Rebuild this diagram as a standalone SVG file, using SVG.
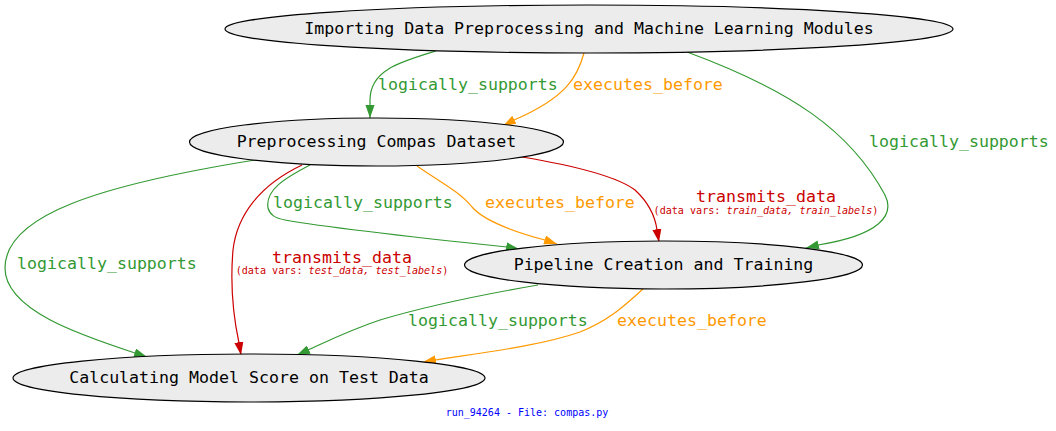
<svg xmlns="http://www.w3.org/2000/svg" width="1056" height="431" viewBox="0 0 1056 431">
<style>
.node ellipse{fill:#ececec;stroke:#000;stroke-width:1.2}
.node text{font-family:"DejaVu Sans Mono",monospace;font-size:16.6px;fill:#000;text-anchor:middle}
.e{fill:none;stroke-width:1.2}
.g{stroke:#339933}.o{stroke:#ff9900}.r{stroke:#cc0000}
.lbl{font-family:"DejaVu Sans Mono",monospace;font-size:16.6px}
.sub{font-family:"DejaVu Sans Mono",monospace;font-size:10.1px;fill:#cc0000;text-anchor:middle}
.gt{fill:#339933}.ot{fill:#ff9900}.rt{fill:#cc0000}
.foot{font-family:"DejaVu Sans Mono",monospace;font-size:10px;fill:#0000ff;text-anchor:middle}
</style>
<defs>
<marker id="ag" viewBox="0 0 10 7" refX="10" refY="3.5" markerWidth="13" markerHeight="9.1" markerUnits="userSpaceOnUse" orient="auto"><path d="M0,0L10,3.5L0,7z" fill="#339933"/></marker>
<marker id="ao" viewBox="0 0 10 7" refX="10" refY="3.5" markerWidth="13" markerHeight="9.1" markerUnits="userSpaceOnUse" orient="auto"><path d="M0,0L10,3.5L0,7z" fill="#ff9900"/></marker>
<marker id="ar" viewBox="0 0 10 7" refX="10" refY="3.5" markerWidth="13" markerHeight="9.1" markerUnits="userSpaceOnUse" orient="auto"><path d="M0,0L10,3.5L0,7z" fill="#cc0000"/></marker>
</defs>
<rect width="1056" height="431" fill="#fff"/>
<g id="edges">
<path class="e g" d="M436,51C400,62 370,70 370,100L370,118" marker-end="url(#ag)"/>
<path class="e o" d="M584,53C578,75 568,97 514,120L503,126" marker-end="url(#ao)"/>
<path class="e g" d="M687,52C790,90 850,130 885,195C895,215 880,235 818,245L806,248" marker-end="url(#ag)"/>
<path class="e o" d="M417,166C440,182 460,192 472,207C485,222 515,232 545,240L557,244" marker-end="url(#ao)"/>
<path class="e r" d="M522,157C570,165 615,175 635,190C648,202 655,215 657,230L659,242" marker-end="url(#ar)"/>
<path class="e g" d="M310,165C285,178 265,190 268,208C270,215 275,218 285,220C330,228 440,240 507,247L519,249" marker-end="url(#ag)"/>
<path class="e g" d="M255,160C100,185 5,215 5,268C5,310 80,335 135,353L147,357" marker-end="url(#ag)"/>
<path class="e r" d="M302,165C260,185 237,215 233,250C230,285 233,315 239,343L241,355" marker-end="url(#ar)"/>
<path class="e g" d="M538,285C480,295 420,308 380,320C350,330 330,340 308,350L297,355" marker-end="url(#ag)"/>
<path class="e o" d="M643,289C625,305 610,320 580,332C540,346 480,353 435,360L423,362" marker-end="url(#ao)"/>
<text class="lbl gt" x="378" y="90">logically_supports</text>
<text class="lbl ot" x="573" y="90">executes_before</text>
<text class="lbl gt" x="869" y="147">logically_supports</text>
<text class="lbl gt" x="273" y="208">logically_supports</text>
<text class="lbl ot" x="485" y="208">executes_before</text>
<text class="lbl rt" x="766" y="202" text-anchor="middle">transmits_data</text>
<text class="sub" x="766" y="214">(data vars: <tspan font-style="italic">train_data, train_labels</tspan>)</text>
<text class="lbl gt" x="17" y="269">logically_supports</text>
<text class="lbl rt" x="342" y="263" text-anchor="middle">transmits_data</text>
<text class="sub" x="342" y="274">(data vars: <tspan font-style="italic">test_data, test_labels</tspan>)</text>
<text class="lbl gt" x="408" y="326">logically_supports</text>
<text class="lbl ot" x="617" y="326">executes_before</text>
</g>
<g id="node_import" class="node"><ellipse cx="589" cy="29" rx="364" ry="24"/><text x="589" y="34">Importing Data Preprocessing and Machine Learning Modules</text></g>
<g id="node_preprocess" class="node"><ellipse cx="376.5" cy="142" rx="187" ry="24"/><text x="376.5" y="147">Preprocessing Compas Dataset</text></g>
<g id="node_pipeline" class="node"><ellipse cx="663.5" cy="265" rx="199" ry="24"/><text x="663.5" y="270">Pipeline Creation and Training</text></g>
<g id="node_score" class="node"><ellipse cx="249" cy="378" rx="236" ry="24"/><text x="249" y="383">Calculating Model Score on Test Data</text></g>
<text class="foot" x="527" y="416">run_94264 - File: compas.py</text>
</svg>
